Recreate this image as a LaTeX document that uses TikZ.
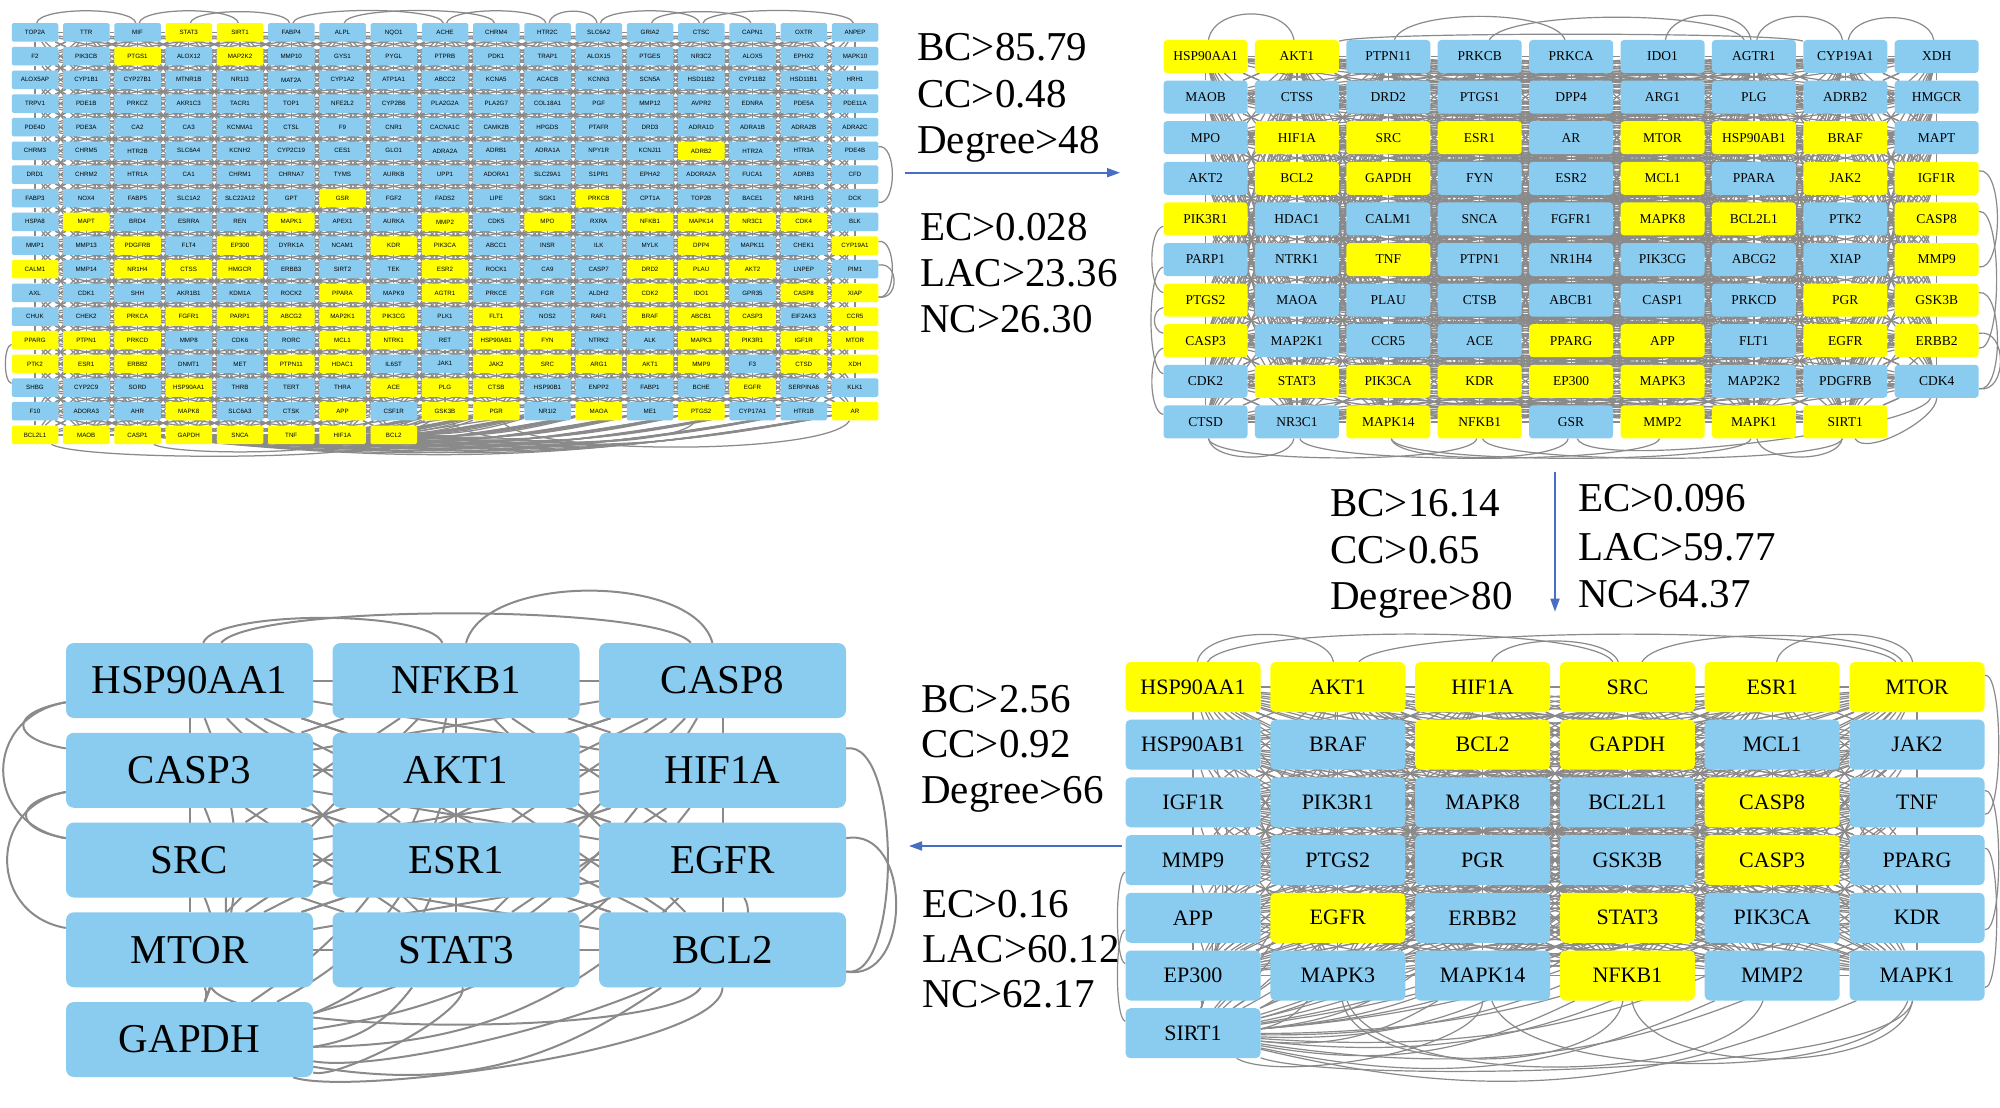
\documentclass[tikz,border=0pt]{standalone}
\usepackage{fontspec}
\setmainfont{Liberation Serif}
\newfontfamily\genesans{Liberation Sans}
\usetikzlibrary{arrows.meta}
\pgfdeclarelayer{canvas}
\pgfdeclarelayer{background}
\pgfsetlayers{canvas,background,main}
\definecolor{bl}{RGB}{137,204,240}
\definecolor{ye}{RGB}{255,255,0}
\definecolor{edgegray}{RGB}{138,138,138}
\definecolor{flowblue}{RGB}{70,110,195}
\newcommand\linkif[3]{\ifcsname pgf@sh@ns@#2\endcsname\ifcsname pgf@sh@ns@#3\endcsname\draw[#1] (#2) -- (#3);\fi\fi}
\newcommand\linkbend[4]{\ifcsname pgf@sh@ns@#2\endcsname\ifcsname pgf@sh@ns@#3\endcsname\draw[#1] (#2) to[#4] (#3);\fi\fi}
\newcommand\generow[8]{\foreach \lab/\col [count=\k from 0] in {#8}{\node[#1,fill=\col] (#2-#3-\k) at ({#4+#5*\k},{#6+#7*#3}) {\lab};}}
\tikzset{
  gene/.style={rounded corners=#1, inner sep=0pt, text=black, draw=none},
  pa/.style={gene=1.5pt, minimum width=46.5pt, minimum height=18.5pt, font=\genesans\fontsize{6.2}{7}\selectfont},
  pb/.style={gene=3.5pt, minimum width=84pt, minimum height=33pt, font=\fontsize{13.5}{15}\selectfont},
  pc/.style={gene=5pt, minimum width=135pt, minimum height=50pt, font=\fontsize{22}{26}\selectfont},
  pd/.style={gene=8pt, minimum width=247pt, minimum height=75pt, font=\fontsize{41}{48}\selectfont},
  crit/.style={anchor=base west, inner sep=0pt, font=\fontsize{41}{48}\selectfont},
  ea/.style={draw=edgegray, line width=1.25pt},
  eb/.style={draw=edgegray, line width=1.2pt},
  ec/.style={draw=edgegray, line width=1.2pt},
  ed/.style={draw=edgegray, line width=2pt},
  flow/.style={draw=flowblue, line width=1.8pt, -{Triangle[length=13pt,width=9pt]}},
}
\begin{document}
\begin{tikzpicture}[x=1pt,y=-1pt]
\begin{pgfonlayer}{canvas}
\fill[white] (0,0) rectangle (2000,1108);
\end{pgfonlayer}
\useasboundingbox (0,0) rectangle (2000,1108);
% ---------------- panel 1 ----------------
\generow{pa}{a}{0}{35}{51.25}{32.5}{23.67}{TOP2A/bl,TTR/bl,MIF/bl,STAT3/ye,SIRT1/ye,FABP4/bl,ALPL/bl,NQO1/bl,ACHE/bl,CHRM4/bl,HTR2C/bl,SLC6A2/bl,GRIA2/bl,CTSC/bl,CAPN1/bl,OXTR/bl,ANPEP/bl}
\generow{pa}{a}{1}{35}{51.25}{32.5}{23.67}{F2/bl,PIK3CB/bl,PTGS1/ye,ALOX12/bl,MAP2K2/ye,MMP10/bl,GYS1/bl,PYGL/bl,PTPRB/bl,PDK1/bl,TRAP1/bl,ALOX15/bl,PTGES/bl,NR3C2/bl,ALOX5/bl,EPHX2/bl,MAPK10/bl}
\generow{pa}{a}{2}{35}{51.25}{32.5}{23.67}{ALOX5AP/bl,CYP1B1/bl,CYP27B1/bl,MTNR1B/bl,NR1I3/bl,MAT2A/bl,CYP1A2/bl,ATP1A1/bl,ABCC2/bl,KCNA5/bl,ACACB/bl,KCNN3/bl,SCN5A/bl,HSD11B2/bl,CYP11B2/bl,HSD11B1/bl,HRH1/bl}
\generow{pa}{a}{3}{35}{51.25}{32.5}{23.67}{TRPV1/bl,PDE1B/bl,PRKCZ/bl,AKR1C3/bl,TACR1/bl,TOP1/bl,NFE2L2/bl,CYP2B6/bl,PLA2G2A/bl,PLA2G7/bl,COL18A1/bl,PGF/bl,MMP12/bl,AVPR2/bl,EDNRA/bl,PDE5A/bl,PDE11A/bl}
\generow{pa}{a}{4}{35}{51.25}{32.5}{23.67}{PDE4D/bl,PDE3A/bl,CA2/bl,CA3/bl,KCNMA1/bl,CTSL/bl,F9/bl,CNR1/bl,CACNA1C/bl,CAMK2B/bl,HPGDS/bl,PTAFR/bl,DRD3/bl,ADRA1D/bl,ADRA1B/bl,ADRA2B/bl,ADRA2C/bl}
\generow{pa}{a}{5}{35}{51.25}{32.5}{23.67}{CHRM3/bl,CHRM5/bl,HTR2B/bl,SLC6A4/bl,KCNH2/bl,CYP2C19/bl,CES1/bl,GLO1/bl,ADRA2A/bl,ADRB1/bl,ADRA1A/bl,NPY1R/bl,KCNJ11/bl,ADRB2/ye,HTR2A/bl,HTR3A/bl,PDE4B/bl}
\generow{pa}{a}{6}{35}{51.25}{32.5}{23.67}{DRD1/bl,CHRM2/bl,HTR1A/bl,CA1/bl,CHRM1/bl,CHRNA7/bl,TYMS/bl,AURKB/bl,UPP1/bl,ADORA1/bl,SLC29A1/bl,S1PR1/bl,EPHA2/bl,ADORA2A/bl,FUCA1/bl,ADRB3/bl,CFD/bl}
\generow{pa}{a}{7}{35}{51.25}{32.5}{23.67}{FABP3/bl,NOX4/bl,FABP5/bl,SLC1A2/bl,SLC22A12/bl,GPT/bl,GSR/ye,FGF2/bl,FADS2/bl,LIPE/bl,SGK1/bl,PRKCB/ye,CPT1A/bl,TOP2B/bl,BACE1/bl,NR1H3/bl,DCK/bl}
\generow{pa}{a}{8}{35}{51.25}{32.5}{23.67}{HSPA8/bl,MAPT/ye,BRD4/bl,ESRRA/bl,REN/bl,MAPK1/ye,APEX1/bl,AURKA/bl,MMP2/ye,CDK5/bl,MPO/ye,RXRA/bl,NFKB1/ye,MAPK14/ye,NR3C1/ye,CDK4/ye,BLK/bl}
\generow{pa}{a}{9}{35}{51.25}{32.5}{23.67}{MMP1/bl,MMP13/bl,PDGFRB/ye,FLT4/bl,EP300/ye,DYRK1A/bl,NCAM1/bl,KDR/ye,PIK3CA/ye,ABCC1/bl,INSR/bl,ILK/bl,MYLK/bl,DPP4/ye,MAPK11/bl,CHEK1/bl,CYP19A1/ye}
\generow{pa}{a}{10}{35}{51.25}{32.5}{23.67}{CALM1/ye,MMP14/bl,NR1H4/ye,CTSS/ye,HMGCR/ye,ERBB3/bl,SIRT2/bl,TEK/bl,ESR2/ye,ROCK1/bl,CA9/bl,CASP7/bl,DRD2/ye,PLAU/ye,AKT2/ye,LNPEP/bl,PIM1/bl}
\generow{pa}{a}{11}{35}{51.25}{32.5}{23.67}{AXL/bl,CDK1/bl,SHH/bl,AKR1B1/bl,KDM1A/bl,ROCK2/bl,PPARA/ye,MAPK9/bl,AGTR1/ye,PRKCE/bl,FGR/bl,ALDH2/bl,CDK2/ye,IDO1/ye,GPR35/bl,CASP8/ye,XIAP/ye}
\generow{pa}{a}{12}{35}{51.25}{32.5}{23.67}{CHUK/bl,CHEK2/bl,PRKCA/ye,FGFR1/ye,PARP1/ye,ABCG2/ye,MAP2K1/ye,PIK3CG/ye,PLK1/bl,FLT1/ye,NOS2/bl,RAF1/bl,BRAF/ye,ABCB1/ye,CASP3/ye,EIF2AK3/bl,CCR5/ye}
\generow{pa}{a}{13}{35}{51.25}{32.5}{23.67}{PPARG/ye,PTPN1/ye,PRKCD/ye,MMP8/bl,CDK6/bl,RORC/bl,MCL1/ye,NTRK1/ye,RET/bl,HSP90AB1/ye,FYN/ye,NTRK2/bl,ALK/bl,MAPK3/ye,PIK3R1/ye,IGF1R/ye,MTOR/ye}
\generow{pa}{a}{14}{35}{51.25}{32.5}{23.67}{PTK2/ye,ESR1/ye,ERBB2/ye,DNMT1/bl,MET/bl,PTPN11/ye,HDAC1/ye,IL6ST/bl,JAK1/bl,JAK2/ye,SRC/ye,ARG1/ye,AKT1/ye,MMP9/ye,F3/bl,CTSD/ye,XDH/ye}
\generow{pa}{a}{15}{35}{51.25}{32.5}{23.67}{SHBG/bl,CYP2C9/bl,SORD/bl,HSP90AA1/ye,THRB/bl,TERT/bl,THRA/bl,ACE/ye,PLG/ye,CTSB/ye,HSP90B1/bl,ENPP2/bl,FABP1/bl,BCHE/bl,EGFR/ye,SERPINA6/bl,KLK1/bl}
\generow{pa}{a}{16}{35}{51.25}{32.5}{23.67}{F10/bl,ADORA3/bl,AHR/bl,MAPK8/ye,SLC6A3/bl,CTSK/bl,APP/ye,CSF1R/bl,GSK3B/ye,PGR/ye,NR1I2/bl,MAOA/ye,ME1/bl,PTGS2/ye,CYP17A1/bl,HTR1B/bl,AR/ye}
\generow{pa}{a}{17}{35}{51.25}{32.5}{23.67}{BCL2L1/ye,MAOB/ye,CASP1/ye,GAPDH/ye,SNCA/ye,TNF/ye,HIF1A/ye,BCL2/ye}
% ---------------- panel 2 ----------------
\generow{pb}{b}{0}{1205.5}{91.4}{56.5}{40.6}{HSP90AA1/ye,AKT1/ye,PTPN11/bl,PRKCB/bl,PRKCA/bl,IDO1/bl,AGTR1/bl,CYP19A1/bl,XDH/bl}
\generow{pb}{b}{1}{1205.5}{91.4}{56.5}{40.6}{MAOB/bl,CTSS/bl,DRD2/bl,PTGS1/bl,DPP4/bl,ARG1/bl,PLG/bl,ADRB2/bl,HMGCR/bl}
\generow{pb}{b}{2}{1205.5}{91.4}{56.5}{40.6}{MPO/bl,HIF1A/ye,SRC/ye,ESR1/ye,AR/bl,MTOR/ye,HSP90AB1/ye,BRAF/ye,MAPT/bl}
\generow{pb}{b}{3}{1205.5}{91.4}{56.5}{40.6}{AKT2/bl,BCL2/ye,GAPDH/ye,FYN/bl,ESR2/bl,MCL1/ye,PPARA/bl,JAK2/ye,IGF1R/ye}
\generow{pb}{b}{4}{1205.5}{91.4}{56.5}{40.6}{PIK3R1/ye,HDAC1/bl,CALM1/bl,SNCA/bl,FGFR1/bl,MAPK8/ye,BCL2L1/ye,PTK2/bl,CASP8/ye}
\generow{pb}{b}{5}{1205.5}{91.4}{56.5}{40.6}{PARP1/bl,NTRK1/bl,TNF/ye,PTPN1/bl,NR1H4/bl,PIK3CG/bl,ABCG2/bl,XIAP/bl,MMP9/ye}
\generow{pb}{b}{6}{1205.5}{91.4}{56.5}{40.6}{PTGS2/ye,MAOA/bl,PLAU/bl,CTSB/bl,ABCB1/bl,CASP1/bl,PRKCD/bl,PGR/ye,GSK3B/ye}
\generow{pb}{b}{7}{1205.5}{91.4}{56.5}{40.6}{CASP3/ye,MAP2K1/bl,CCR5/bl,ACE/bl,PPARG/ye,APP/ye,FLT1/bl,EGFR/ye,ERBB2/ye}
\generow{pb}{b}{8}{1205.5}{91.4}{56.5}{40.6}{CDK2/bl,STAT3/ye,PIK3CA/ye,KDR/ye,EP300/ye,MAPK3/ye,MAP2K2/bl,PDGFRB/bl,CDK4/bl}
\generow{pb}{b}{9}{1205.5}{91.4}{56.5}{40.6}{CTSD/bl,NR3C1/bl,MAPK14/ye,NFKB1/ye,GSR/bl,MMP2/ye,MAPK1/ye,SIRT1/ye}
% ---------------- panel 3 ----------------
\generow{pc}{c}{0}{1193}{144.8}{687}{57.7}{HSP90AA1/ye,AKT1/ye,HIF1A/ye,SRC/ye,ESR1/ye,MTOR/ye}
\generow{pc}{c}{1}{1193}{144.8}{687}{57.7}{HSP90AB1/bl,BRAF/bl,BCL2/ye,GAPDH/ye,MCL1/bl,JAK2/bl}
\generow{pc}{c}{2}{1193}{144.8}{687}{57.7}{IGF1R/bl,PIK3R1/bl,MAPK8/bl,BCL2L1/bl,CASP8/ye,TNF/bl}
\generow{pc}{c}{3}{1193}{144.8}{687}{57.7}{MMP9/bl,PTGS2/bl,PGR/bl,GSK3B/bl,CASP3/ye,PPARG/bl}
\generow{pc}{c}{4}{1193}{144.8}{687}{57.7}{APP/bl,EGFR/ye,ERBB2/bl,STAT3/ye,PIK3CA/bl,KDR/bl}
\generow{pc}{c}{5}{1193}{144.8}{687}{57.7}{EP300/bl,MAPK3/bl,MAPK14/bl,NFKB1/ye,MMP2/bl,MAPK1/bl}
\generow{pc}{c}{6}{1193}{144.8}{687}{57.7}{SIRT1/bl}
% ---------------- panel 4 ----------------
\generow{pd}{d}{0}{189.5}{266.5}{680.5}{89.75}{HSP90AA1/bl,NFKB1/bl,CASP8/bl}
\generow{pd}{d}{1}{189.5}{266.5}{680.5}{89.75}{CASP3/bl,AKT1/bl,HIF1A/bl}
\generow{pd}{d}{2}{189.5}{266.5}{680.5}{89.75}{SRC/bl,ESR1/bl,EGFR/bl}
\generow{pd}{d}{3}{189.5}{266.5}{680.5}{89.75}{MTOR/bl,STAT3/bl,BCL2/bl}
\generow{pd}{d}{4}{189.5}{266.5}{680.5}{89.75}{GAPDH/bl}
% ---------------- edges ----------------
\begin{pgfonlayer}{background}
% panel 1
\foreach \ri in {0,...,16}{\pgfmathtruncatemacro\rn{\ri+1}%
  \foreach \ci in {0,...,16}{\foreach \di in {-3,...,3}{\pgfmathtruncatemacro\cn{\ci+\di}\linkif{ea}{a-\ri-\ci}{a-\rn-\cn}}}}
\foreach \ci in {0,...,15}{\pgfmathtruncatemacro\cn{\ci+1}%
  \foreach \ri in {0,...,17}{\foreach \di in {-3,...,3}{\pgfmathtruncatemacro\rn{\ri+\di}\linkif{ea}{a-\ri-\ci}{a-\rn-\cn}}}}
\foreach \ci in {8,...,16}{\foreach \ck in {2,...,7}{\linkbend{ea}{a-16-\ci}{a-17-\ck}{bend left=8}}}
\draw[ea] (a-0-0) to[out=80,in=100,looseness=.43] (a-0-2);
\draw[ea] (a-0-2) to[out=80,in=100,looseness=.43] (a-0-4);
\draw[ea] (a-0-3) to[out=80,in=100,looseness=.4] (a-0-5);
\draw[ea] (a-0-5) to[out=80,in=100,looseness=.29] (a-0-8);
\draw[ea] (a-0-6) to[out=80,in=100,looseness=.29] (a-0-9);
\draw[ea] (a-0-8) to[out=80,in=100,looseness=.43] (a-0-10);
\draw[ea] (a-0-10) to[out=80,in=100,looseness=.86] (a-0-11);
\draw[ea] (a-0-11) to[out=80,in=100,looseness=.43] (a-0-13);
\draw[ea] (a-0-12) to[out=80,in=100,looseness=.4] (a-0-14);
\draw[ea] (a-0-13) to[out=80,in=100,looseness=.29] (a-0-16);
\draw[ea] (a-9-16) to[out=10,in=-10,looseness=.87] (a-11-16);
\draw[ea] (a-10-16) to[out=10,in=-10,looseness=1.7] (a-11-16);
\draw[ea] (a-5-16) to[out=10,in=-10,looseness=.87] (a-7-16);
\draw[ea] (a-13-0) to[out=190,in=170,looseness=.55] (a-15-0);
\draw[ea] (a-17-0) to[out=-30,in=-150,looseness=.25] (a-17-7);
\draw[ea] (a-17-2) to[out=-30,in=-150,looseness=.3] (a-17-6);
\draw[ea] (a-16-9) to[out=-60,in=-120,looseness=.3] (a-16-16);
\draw[ea] (a-16-8) to[out=-60,in=-120,looseness=.35] (a-16-13);
% panel 2
\foreach \ri in {0,...,8}{\pgfmathtruncatemacro\rn{\ri+1}%
  \foreach \ci in {0,...,8}{\foreach \cn in {0,...,8}{\linkif{eb}{b-\ri-\ci}{b-\rn-\cn}}}}
\foreach \ci in {0,...,7}{\pgfmathtruncatemacro\cn{\ci+1}%
  \foreach \ri in {0,...,9}{\foreach \rn in {0,...,9}{\linkif{eb}{b-\ri-\ci}{b-\rn-\cn}}}}
\draw[eb] (b-0-0) to[out=80,in=100,looseness=1.05] (b-0-1);
\draw[eb] (b-0-2) to[out=70,in=110,looseness=.5] (b-0-4);
\draw[eb] (b-0-5) to[out=80,in=100,looseness=1] (b-0-6);
\draw[eb] (b-0-6) to[out=80,in=100,looseness=.95] (b-0-7);
\draw[eb] (b-0-7) to[out=80,in=100,looseness=.9] (b-0-8);
\draw[eb] (b-0-1) to[out=20,in=160,looseness=.15] (b-0-7);
\draw[eb] (b-0-3) to[out=60,in=120,looseness=.35] (b-0-6);
\draw[eb] (b-4-0) to[out=190,in=170,looseness=.6] (b-6-0);
\draw[eb] (b-5-0) to[out=190,in=170,looseness=.4] (b-8-0);
\draw[eb] (b-6-0) to[out=190,in=170,looseness=1.2] (b-7-0);
\draw[eb] (b-7-0) to[out=190,in=170,looseness=.6] (b-9-0);
\draw[eb] (b-3-8) to[out=10,in=-10,looseness=.67] (b-5-8);
\draw[eb] (b-4-8) to[out=10,in=-10,looseness=.45] (b-7-8);
\draw[eb] (b-6-8) to[out=10,in=-10,looseness=.67] (b-8-8);
\draw[eb] (b-7-8) to[out=10,in=-10,looseness=1.35] (b-8-8);
\draw[eb] (b-9-0) to[out=-80,in=-100,looseness=.25] (b-9-3);
\draw[eb] (b-9-1) to[out=-80,in=-100,looseness=.19] (b-9-5);
\draw[eb] (b-9-2) to[out=-80,in=-100,looseness=.19] (b-9-6);
\draw[eb] (b-9-3) to[out=-80,in=-100,looseness=.19] (b-9-7);
\draw[eb] (b-9-0) to[out=-80,in=-100,looseness=.75] (b-9-1);
\draw[eb] (b-9-6) to[out=-80,in=-100,looseness=.75] (b-9-7);
\draw[eb] (b-9-2) to[out=-80,in=-100,looseness=.37] (b-9-4);
\draw[eb] (b-9-4) to[out=-70,in=-110,looseness=.25] (b-8-8);
\draw[eb] (b-9-7) to[out=-60,in=-90,looseness=.6] (b-8-8);
% panel 3
\foreach \ri in {0,...,6}{\foreach \ci in {0,...,5}{\foreach \rj in {0,...,6}{\foreach \cj in {0,...,5}{%
  \pgfmathtruncatemacro\ia{\ri*6+\ci}\pgfmathtruncatemacro\ib{\rj*6+\cj}%
  \ifnum\ib>\ia \ifnum\rj=6 \linkbend{ec}{c-\ri-\ci}{c-\rj-\cj}{bend left=18}\else\linkif{ec}{c-\ri-\ci}{c-\rj-\cj}\fi\fi}}}}
\draw[ec] (c-0-0) to[out=60,in=120,looseness=.27] (c-0-3);
\draw[ec] (c-0-1) to[out=50,in=130,looseness=.23] (c-0-5);
\draw[ec] (c-0-2) to[out=70,in=110,looseness=.6] (c-0-3);
\draw[ec] (c-0-3) to[out=60,in=120,looseness=.4] (c-0-5);
\draw[ec] (c-0-0) to[out=80,in=100,looseness=.7] (c-0-1);
\draw[ec] (c-0-4) to[out=80,in=100,looseness=.7] (c-0-5);
\draw[ec] (c-0-5) to[out=10,in=-10,looseness=.35] (c-2-5);
\draw[ec] (c-2-5) to[out=10,in=-10,looseness=.35] (c-4-5);
\draw[ec] (c-3-5) to[out=10,in=-10,looseness=.3] (c-5-5);
\draw[ec] (c-3-0) to[out=190,in=170,looseness=.3] (c-5-0);
\draw[ec] (c-4-0) to[out=190,in=170,looseness=.3] (c-6-0);
\draw[ec] (c-6-0) to[out=-20,in=-100,looseness=.3] (c-5-5);
\draw[ec] (c-5-1) to[out=-70,in=-110,looseness=.58] (c-5-4);
\draw[ec] (c-5-2) to[out=-70,in=-110,looseness=.55] (c-5-5);
\draw[ec] (c-5-1) to[out=-80,in=-100,looseness=.72] (c-5-3);
\draw[ec] (c-5-3) to[out=-80,in=-100,looseness=.72] (c-5-5);
\draw[ec] (c-6-0) to[out=-30,in=-90,looseness=.5] (c-5-2);
% panel 4
\foreach \ri in {0,...,4}{\foreach \ci in {0,...,2}{\foreach \rj in {0,...,4}{\foreach \cj in {0,...,2}{%
  \pgfmathtruncatemacro\ia{\ri*3+\ci}\pgfmathtruncatemacro\ib{\rj*3+\cj}%
  \ifnum\ib>\ia \ifnum\rj=4 \linkbend{ed}{d-\ri-\ci}{d-\rj-\cj}{bend left=22}\else\linkif{ed}{d-\ri-\ci}{d-\rj-\cj}\fi\fi}}}}
\draw[ed] (d-0-1) to[out=75,in=105,looseness=.75] (d-0-2);
\draw[ed] (d-0-0) to[out=70,in=110,looseness=.38] (d-0-1);
\draw[ed] (d-0-0) to[out=50,in=130,looseness=.28] (d-0-2);
\draw[ed] (d-0-0) to[out=190,in=170,looseness=3.2] (d-1-0);
\draw[ed] (d-0-0) to[out=190,in=170,looseness=1.6] (d-2-0);
\draw[ed] (d-1-0) to[out=190,in=170,looseness=3] (d-2-0);
\draw[ed] (d-1-0) to[out=190,in=170,looseness=1.5] (d-3-0);
\draw[ed] (d-1-2) to[out=10,in=-10,looseness=.65] (d-3-2);
\draw[ed] (d-2-2) to[out=10,in=-10,looseness=1.3] (d-3-2);
\draw[ed] (d-4-0) to[out=-20,in=-90,looseness=.35] (d-3-2);
\draw[ed] (d-4-0) to[out=-15,in=-80,looseness=.4] (d-3-1);
\draw[ed] (d-3-0) to[out=-60,in=-120,looseness=.3] (d-3-2);
\draw[ed] (d-4-0) to[out=-10,in=-60,looseness=.5] (d-2-2);
\end{pgfonlayer}
% ---------------- criteria and arrows ----------------
\node[crit] (t1) at (917,61) {BC>85.79};
\node[crit] (t2) at (917,107) {CC>0.48};
\node[crit] (t3) at (917,153) {Degree>48};
\node[crit] (t4) at (920,240) {EC>0.028};
\node[crit] (t5) at (920,286) {LAC>23.36};
\node[crit] (t6) at (920,332) {NC>26.30};
\node[crit] (t7) at (1330,516) {BC>16.14};
\node[crit] (t8) at (1330,563) {CC>0.65};
\node[crit] (t9) at (1330,609) {Degree>80};
\node[crit] (t10) at (1578,511) {EC>0.096};
\node[crit] (t11) at (1578,560) {LAC>59.77};
\node[crit] (t12) at (1578,607) {NC>64.37};
\node[crit] (t13) at (921,712) {BC>2.56};
\node[crit] (t14) at (921,757) {CC>0.92};
\node[crit] (t15) at (921,803) {Degree>66};
\node[crit] (t16) at (922,917) {EC>0.16};
\node[crit] (t17) at (922,962) {LAC>60.12};
\node[crit] (t18) at (922,1007) {NC>62.17};
\coordinate (fa1) at (905,172.7);
\coordinate (fa2) at (1120,172.7);
\coordinate (fb1) at (1555,471.7);
\coordinate (fb2) at (1555,611.7);
\coordinate (fc1) at (1122,846);
\coordinate (fc2) at (909,846);
\draw[flow] (fa1) -- (fa2);
\draw[flow] (fb1) -- (fb2);
\draw[flow] (fc1) -- (fc2);
\end{tikzpicture}
\end{document}
